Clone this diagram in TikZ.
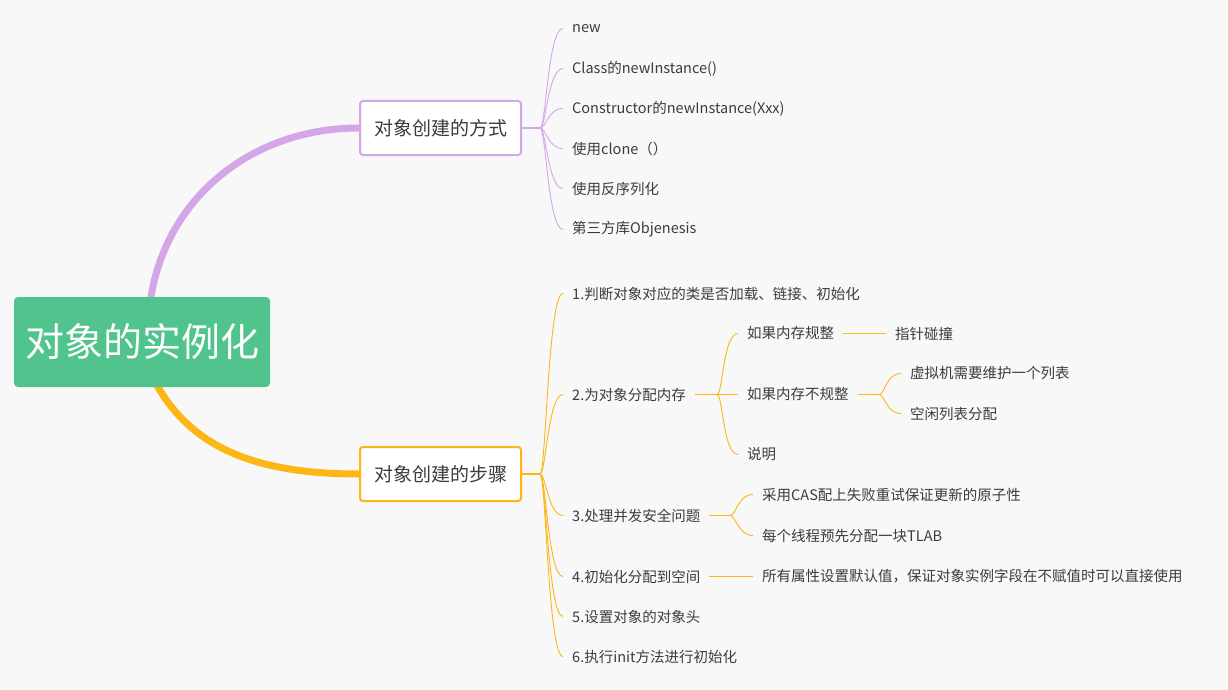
\documentclass[tikz,border=0pt]{standalone}
\usepackage{fontspec}
\setmainfont{Noto Sans CJK SC}
\usetikzlibrary{calc}
\definecolor{bgc}{HTML}{F8F8F8}
\definecolor{rootg}{HTML}{50C48C}
\definecolor{purp}{HTML}{D4A6E8}
\definecolor{oran}{HTML}{FCB714}
\definecolor{txt}{HTML}{3C3C3C}
\pgfdeclarelayer{back}
\pgfdeclarelayer{conn}
\pgfsetlayers{back,conn,main}
\tikzset{
  rootbox/.style={fill=rootg, rounded corners=4pt, minimum width=256pt, minimum height=90pt, inner sep=0pt, text=white, font=\fontsize{39}{44}\selectfont},
  branchbox/.style={draw=#1, line width=2pt, fill=white, rounded corners=3pt, minimum width=161pt, minimum height=54pt, inner sep=0pt, text=txt, font=\fontsize{19}{22}\selectfont},
  leaf/.style={anchor=west, inner xsep=9pt, inner ysep=2pt, yshift=-1.5pt, text=txt, font=\fontsize{14.5}{17}\selectfont},
  fancurve/.style={to path={.. controls +(6,0) and +(-15,0) .. (\tikztotarget) \tikztonodes}},
  mainp/.style={draw=purp, line width=7pt},
  maino/.style={draw=oran, line width=7pt},
  stemp/.style={draw=purp, line width=1.6pt},
  stemo/.style={draw=oran, line width=1.6pt},
  thinp/.style={draw=purp, line width=0.9pt},
  thino/.style={draw=oran, line width=0.9pt}
}
\begin{document}
\begin{tikzpicture}[x=1pt,y=-1pt]
\begin{pgfonlayer}{back}
\fill[bgc] (0,0) rectangle (1228,690);
\end{pgfonlayer}
\useasboundingbox (0,0) rectangle (1228,690);

% root and branches
\node[rootbox] (root) at (142,342) {\raisebox{-2pt}{对象的实例化}};
\node[branchbox=purp] (b1) at (440.5,128) {\raisebox{-1pt}{对象创建的方式}};
\node[branchbox=oran] (b2) at (440.5,474) {\raisebox{-1pt}{对象创建的步骤}};

\coordinate (r1) at ($(root.north west)+(136,8)$);
\coordinate (r2) at ($(root.south west)+(140,-8)$);

\begin{pgfonlayer}{conn}
\draw[mainp] (r1) .. controls (163,200) and (250,128) .. (b1.west);
\draw[maino] (r2) .. controls (190,450) and (260,474) .. (b2.west);
\end{pgfonlayer}

% branch 1 leaves
\coordinate (f1) at (540,128);
\node[leaf] (m1) at (563,27) {new};
\node[leaf] (m2) at (563,67) {Class的newInstance()};
\node[leaf] (m3) at (563,107) {Constructor的newInstance(Xxx)};
\node[leaf] (m4) at (563,147) {使用clone（）};
\node[leaf] (m5) at (563,187) {使用反序列化};
\node[leaf] (m6) at (563,228) {第三方库Objenesis};
\draw[stemp] (b1.east) -- (f1);
\foreach \n in {m1,m2,m3,m4,m5,m6}{
  \draw[thinp] (f1) to[fancurve] (\n.west);
}

% branch 2 leaves
\coordinate (f2) at (540,474);
\node[leaf] (s1) at (563,292) {1.判断对象对应的类是否加载、链接、初始化};
\node[leaf] (s2) at (563,393) {2.为对象分配内存};
\node[leaf] (s3) at (563,514) {3.处理并发安全问题};
\node[leaf] (s4) at (563,575) {4.初始化分配到空间};
\node[leaf] (s5) at (563,615) {5.设置对象的对象头};
\node[leaf] (s6) at (563,655) {6.执行init方法进行初始化};
\draw[stemo] (b2.east) -- (f2);
\foreach \n in {s1,s2,s3,s4,s5,s6}{
  \draw[thino] (f2) to[fancurve] (\n.west);
}

% sub of 2
\coordinate (f22) at (717,394.5);
\node[leaf] (t1) at (738,332) {如果内存规整};
\node[leaf] (t2) at (738,393) {如果内存不规整};
\node[leaf] (t3) at (738,453) {说明};
\draw[stemo] (s2.east) -- (f22);
\foreach \n in {t1,t2,t3}{
  \draw[thino] (f22) to[fancurve] (\n.west);
}
\node[leaf] (u1) at (886,332) {指针碰撞};
\draw[thino] (t1.east) -- (u1.west);
\coordinate (f23) at (879,394.5);
\node[leaf] (u2) at (901,372) {虚拟机需要维护一个列表};
\node[leaf] (u3) at (901,412) {空闲列表分配};
\draw[stemo] (t2.east) -- (f23);
\foreach \n in {u2,u3}{
  \draw[thino] (f23) to[fancurve] (\n.west);
}

% sub of 3
\coordinate (f3) at (730,515.5);
\node[leaf] (v1) at (753,493) {采用CAS配上失败重试保证更新的原子性};
\node[leaf] (v2) at (753,534) {每个线程预先分配一块TLAB};
\draw[stemo] (s3.east) -- (f3);
\foreach \n in {v1,v2}{
  \draw[thino] (f3) to[fancurve] (\n.west);
}

% sub of 4
\node[leaf] (w1) at (753,575) {所有属性设置默认值，保证对象实例字段在不赋值时可以直接使用};
\draw[stemo] (s4.east) -- (w1.west);
\end{tikzpicture}
\end{document}
